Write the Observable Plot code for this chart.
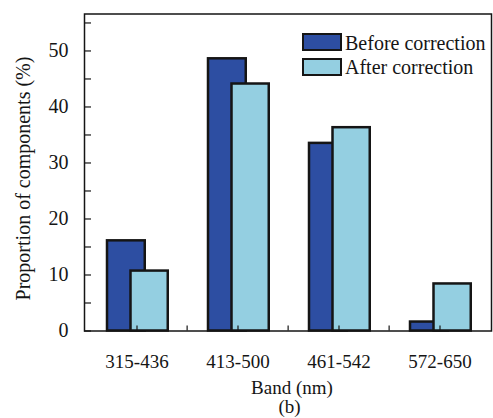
<!DOCTYPE html>
<html>
<head>
<meta charset="utf-8">
<script src="https://cdn.jsdelivr.net/npm/d3@7"></script>
<script src="https://cdn.jsdelivr.net/npm/@observablehq/plot@0.6"></script>
<style>
  html, body { margin: 0; padding: 0; background: #ffffff; }
  #wrap { position: relative; width: 493px; height: 418px; font-family: "Liberation Serif", "Times New Roman", serif; color: #151515; overflow: hidden; }
  #chart svg { display: block; }
  .sw { position: absolute; left: 302px; width: 40px; height: 18px; box-sizing: border-box; border: 2.5px solid #151515; }
  .lbl { position: absolute; left: 345px; font-size: 20px; line-height: 20px; white-space: nowrap; }
</style>
</head>
<body>
<div id="wrap">
  <div id="chart"></div>
  <div id="legend"></div>
</div>
<script>
// ---- data ----
const categories = ["315-436", "413-500", "461-542", "572-650"];
const seriesNames = ["Before correction", "After correction"];
const before = [16.1, 48.6, 33.5, 1.6];
const after = [10.7, 44.1, 36.3, 8.4];
const colors = ["#2d4ea2", "#94cfe1"];
const yMajorTicks = [0, 10, 20, 30, 40, 50];
const yMinorTicks = [5, 15, 25, 35, 45, 55];
const xLabel = "Band (nm)";
const yLabel = "Proportion of components (%)";
const caption = "(b)";

// ---- layout ----
const W = 493, H = 418;
const ml = 84, mr = 2, mt = 13.5, mb = 87.5;
const bw = (W - ml - mr) / categories.length;

const rowsBefore = categories.map((c, i) => ({band: c, series: seriesNames[0], value: before[i]}));
const rowsAfter = categories.map((c, i) => ({band: c, series: seriesNames[1], value: after[i]}));

const ink = "#151515";

const chart = Plot.plot({
  width: W,
  height: H,
  marginLeft: ml,
  marginRight: mr,
  marginTop: mt,
  marginBottom: mb,
  style: {fontFamily: "'Liberation Serif', 'Times New Roman', serif", fontSize: "19px", color: ink, background: "transparent"},
  x: {type: "band", domain: categories, padding: 0, label: null},
  y: {domain: [0, 56.6], label: null},
  color: {domain: seriesNames, range: colors},
  marks: [
    Plot.barY(rowsBefore, {x: "band", y: "value", fill: "series", stroke: ink, strokeWidth: 2.5, insetLeft: 21, insetRight: bw - 59.5}),
    Plot.barY(rowsAfter, {x: "band", y: "value", fill: "series", stroke: ink, strokeWidth: 2.5, insetLeft: 44.5, insetRight: bw - 82.5}),
    Plot.axisY(yMajorTicks, {tickSize: 0, tickPadding: 16, fontSize: 20, fill: ink, label: null}),
    Plot.axisY([...yMajorTicks, ...yMinorTicks], {tickSize: 7, insetLeft: 7, fill: "none", stroke: ink, strokeWidth: 1.2, label: null}),
    Plot.axisX(categories, {tickSize: 0, tickPadding: 23.3, fontSize: 19, fill: ink, label: null}),
    Plot.axisX(categories, {tickSize: 5, insetBottom: 5, fill: "none", stroke: ink, strokeWidth: 1.2, label: null}),
    Plot.axisX(categories.slice(1), {tickSize: 5, insetBottom: 5, dx: -bw / 2, fill: "none", stroke: ink, strokeWidth: 1.2, label: null}),
    Plot.frame({stroke: ink, strokeWidth: 1.5}),
    Plot.text([yLabel], {text: d => d, frameAnchor: "left", textAnchor: "middle", lineAnchor: "middle", rotate: -90, dx: -61.4, dy: 6, fontSize: 20, fill: ink}),
    Plot.text([xLabel], {text: d => d, frameAnchor: "bottom", textAnchor: "middle", lineAnchor: "middle", dx: 4, dy: 56.7, fontSize: 19, fill: ink}),
    Plot.text([caption], {text: d => d, frameAnchor: "bottom", textAnchor: "middle", lineAnchor: "middle", dx: 1.5, dy: 76, fontSize: 19, fill: ink})
  ]
});
document.getElementById("chart").appendChild(chart);

// ---- legend ----
const legend = document.getElementById("legend");
seriesNames.forEach((name, i) => {
  const sw = document.createElement("div");
  sw.className = "sw";
  sw.style.top = (33 + i * 25) + "px";
  sw.style.background = colors[i];
  const lbl = document.createElement("div");
  lbl.className = "lbl";
  lbl.style.top = (32.6 + i * 24) + "px";
  lbl.textContent = name;
  legend.appendChild(sw);
  legend.appendChild(lbl);
});
</script>
</body>
</html>
